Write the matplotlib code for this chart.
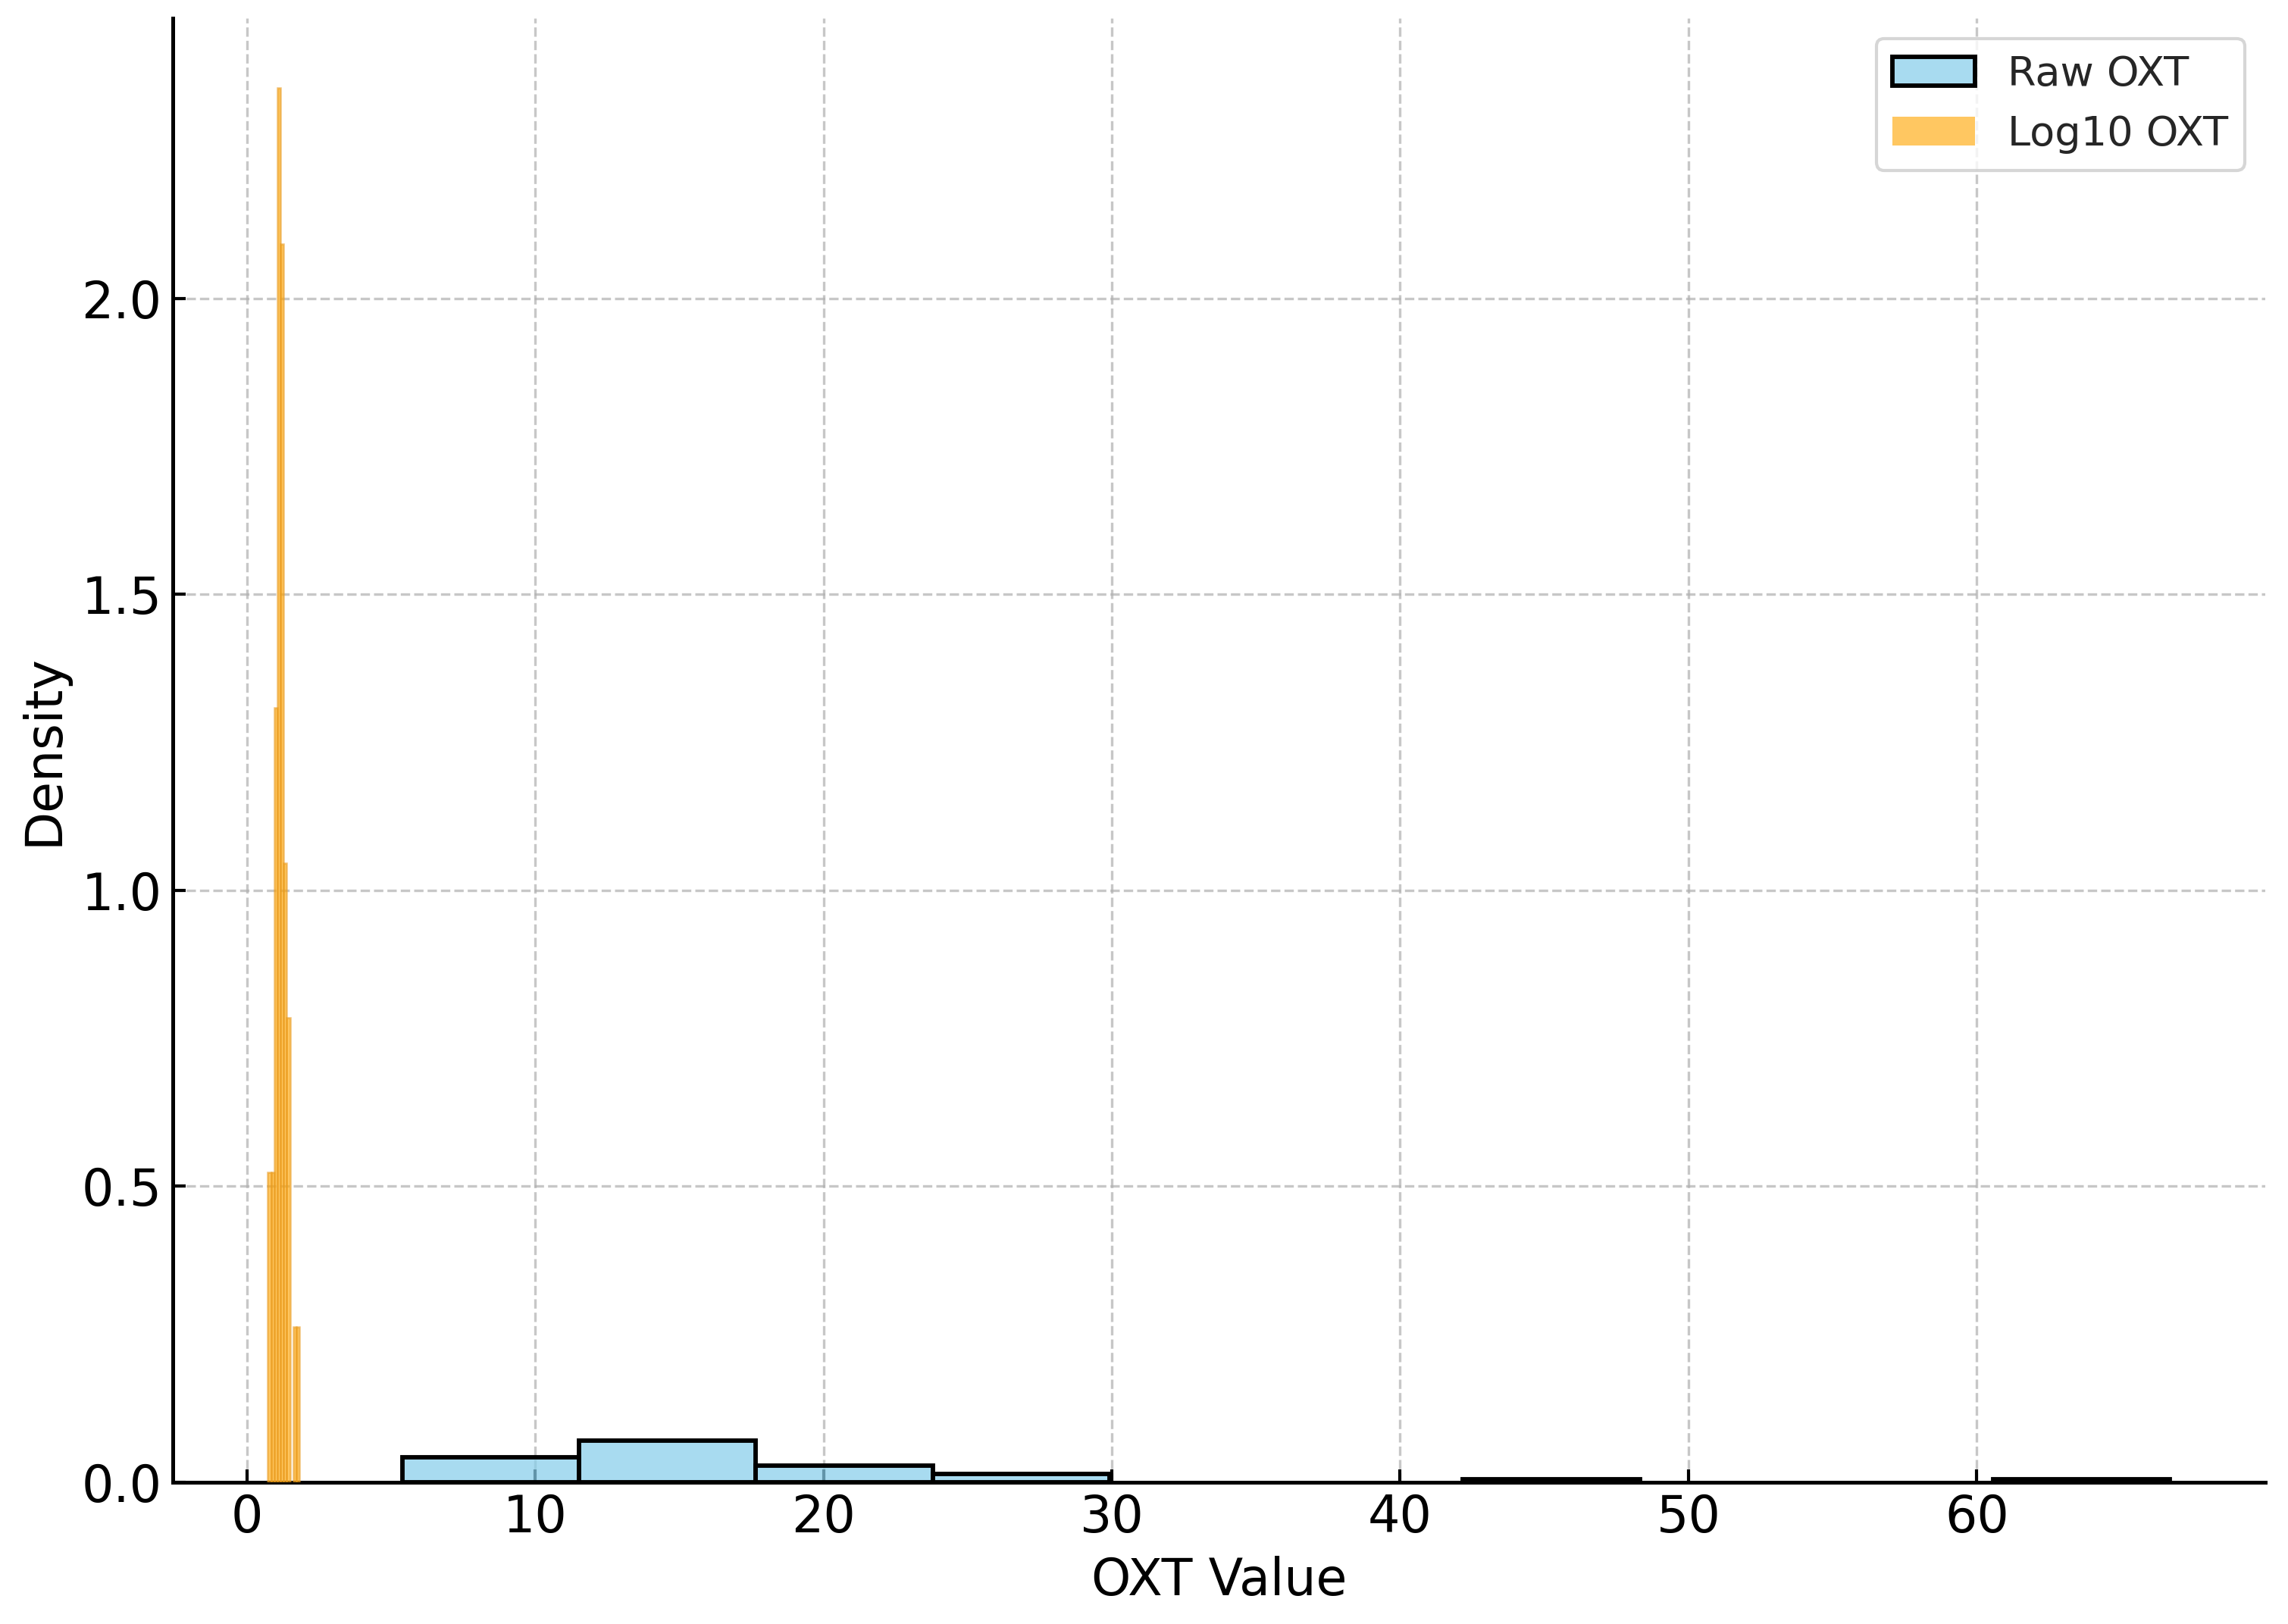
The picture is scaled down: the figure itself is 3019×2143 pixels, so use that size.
import matplotlib
matplotlib.use('Agg')
import matplotlib.pyplot as plt
import numpy as np
from matplotlib.patches import Patch
from matplotlib.colors import to_rgba

# Raw OXT histogram (density), 10 equal bins
raw_min, raw_max = 5.40, 66.70
raw_density = [0.0419, 0.0699, 0.0280, 0.0140, 0.0, 0.0, 0.0047, 0.0, 0.0, 0.0047]

# Log10 OXT histogram (density), 10 equal bins
log_min, log_max = 0.732, 1.824
log_density = [0.523, 0.523, 1.308, 2.356, 2.092, 1.046, 0.785, 0.0, 0.262, 0.262]

labels = ["Raw OXT", "Log10 OXT"]
x_label = "OXT Value"
y_label = "Density"

fig = plt.figure(figsize=(3019 / 300, 2143 / 300), dpi=300)
ax = fig.add_axes([0.0755, 0.0873, 0.9145, 0.9017])

raw_edges = np.linspace(raw_min, raw_max, len(raw_density) + 1)
log_edges = np.linspace(log_min, log_max, len(log_density) + 1)

blue_face = to_rgba('#87CEEB', 0.72)
orange_face = to_rgba('#FFA500', 0.62)

rd = np.array(raw_density)
m = rd > 0
ax.bar(raw_edges[:-1][m], rd[m], width=np.diff(raw_edges)[m], align='edge',
       facecolor=blue_face, edgecolor='black', linewidth=1.4, zorder=2)

ld = np.array(log_density)
m2 = ld > 0
ax.bar(log_edges[:-1][m2], ld[m2], width=np.diff(log_edges)[m2], align='edge',
       facecolor=orange_face, edgecolor=to_rgba('#E89A20', 0.6), linewidth=0.6, zorder=3)

ax.set_xlabel(x_label, fontsize=16)
ax.set_ylabel(y_label, fontsize=16)
ax.tick_params(labelsize=16, direction='in', length=4, width=1)
ax.set_yticks([0.0, 0.5, 1.0, 1.5, 2.0])
ax.set_xticks([0, 10, 20, 30, 40, 50, 60])
ax.grid(True, linestyle='--', color='#b0b0b0', alpha=0.7, linewidth=0.8)
ax.set_axisbelow(True)
for s in ['top', 'right']:
    ax.spines[s].set_visible(False)
for s in ['left', 'bottom']:
    ax.spines[s].set_linewidth(1.2)

handles = [Patch(facecolor=blue_face, edgecolor='black', linewidth=1.4),
           Patch(facecolor=orange_face, edgecolor='none')]
leg = ax.legend(handles, labels, loc='upper right', fontsize=13, frameon=True)
for t in leg.get_texts():
    t.set_color('#262626')

fig.savefig('out.png', dpi=300)
